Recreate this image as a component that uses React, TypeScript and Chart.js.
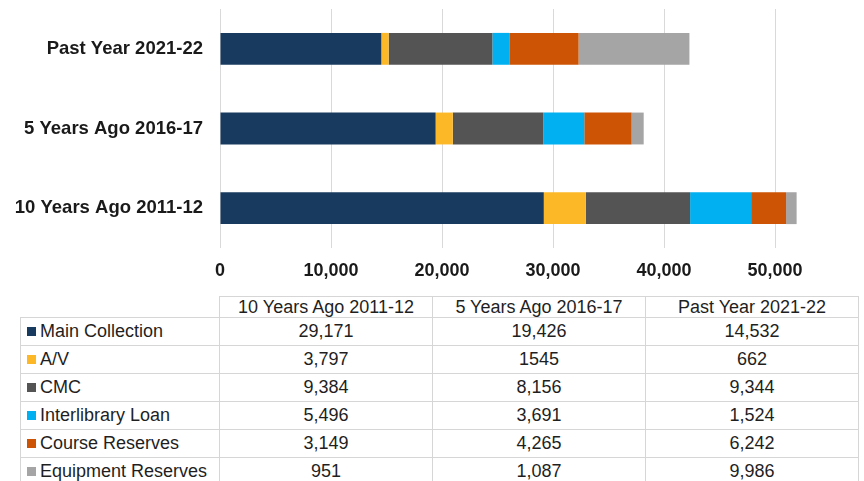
import React, { useEffect, useRef } from "react";
import { Chart, registerables } from "chart.js";

Chart.register(...registerables);

const categories = ["10 Years Ago 2011-12", "5 Years Ago 2016-17", "Past Year 2021-22"];
const seriesNames = ["Main Collection", "A/V", "CMC", "Interlibrary Loan", "Course Reserves", "Equipment Reserves"];
const mainCollection = [29171, 19426, 14532];
const av = [3797, 1545, 662];
const cmc = [9384, 8156, 9344];
const interlibraryLoan = [5496, 3691, 1524];
const courseReserves = [3149, 4265, 6242];
const equipmentReserves = [951, 1087, 9986];
const seriesColors = ["#193a5f", "#fdb827", "#545454", "#00b0f0", "#cd5404", "#a5a5a5"];
const xTicks = [0, 10000, 20000, 30000, 40000, 50000];
// the source table prints this one cell without a thousands separator
const plainCells = ["A/V|5 Years Ago 2016-17"];

const seriesValues = [mainCollection, av, cmc, interlibraryLoan, courseReserves, equipmentReserves];

const FONT = "'Liberation Sans', Arial, sans-serif";

function fmt(v: number, series: string, cat: string) {
  if (plainCells.includes(series + "|" + cat)) return String(v);
  return v.toLocaleString("en-US");
}

export default function App() {
  const ref = useRef<HTMLCanvasElement | null>(null);

  useEffect(() => {
    document.body.style.margin = "0";
    const canvas = ref.current;
    if (!canvas) return;
    const chart = new Chart(canvas, {
      type: "bar",
      data: {
        labels: categories,
        datasets: seriesNames.map((name, i) => ({
          label: name,
          data: seriesValues[i],
          backgroundColor: seriesColors[i],
          borderWidth: 0,
          categoryPercentage: 1,
          barPercentage: 0.4,
          clip: false as any,
        })),
      },
      options: {
        indexAxis: "y",
        animation: false,
        responsive: false,
        maintainAspectRatio: false,
        layout: { padding: { top: 9, right: 89, left: 0, bottom: 0 } },
        plugins: { legend: { display: false }, tooltip: { enabled: false } },
        scales: {
          x: {
            stacked: true,
            min: 0,
            max: 50000,
            afterBuildTicks: (scale: any) => {
              scale.ticks = xTicks.map((v) => ({ value: v }));
            },
            afterFit: (scale: any) => {
              scale.height = 42;
            },
            grid: { color: "#d9d9d9", lineWidth: 1, drawTicks: false },
            border: { display: false },
            ticks: {
              padding: 12,
              color: "#1a1a1a",
              font: { family: FONT, size: 18, weight: "bold" },
              callback: (v: any) => Number(v).toLocaleString("en-US"),
            },
          },
          y: {
            stacked: true,
            reverse: true,
            afterFit: (scale: any) => {
              scale.width = 220;
              scale.paddingTop = 0;
              scale.paddingBottom = 0;
            },
            grid: { display: false, drawTicks: false },
            border: { display: false },
            ticks: {
              padding: 17,
              color: "#1a1a1a",
              font: { family: FONT, size: 18.5, weight: "bold" },
            },
          },
        },
      },
    });
    return () => chart.destroy();
  }, []);

  const cellBorder = "1px solid #d6d6d6";

  return (
    <div style={{ position: "relative", width: 864, height: 481, overflow: "hidden", background: "#fff" }}>
      <canvas ref={ref} width={864} height={290} style={{ position: "absolute", left: 0, top: 0, width: 864, height: 290 }} />
      <table
        style={{
          position: "absolute",
          left: 20,
          top: 296,
          borderCollapse: "collapse",
          tableLayout: "fixed",
          fontFamily: FONT,
          fontSize: 18,
          color: "#1f1f1f",
        }}
      >
        <colgroup>
          <col style={{ width: 199 }} />
          {categories.map((c) => (
            <col key={c} style={{ width: 213 }} />
          ))}
        </colgroup>
        <tbody>
          <tr style={{ height: 21 }}>
            <td style={{ padding: 0 }} />
            {categories.map((c) => (
              <td key={c} style={{ border: cellBorder, textAlign: "center", padding: 0, lineHeight: "20px" }}>
                {c}
              </td>
            ))}
          </tr>
          {seriesNames.map((name, si) => (
            <tr key={name} style={{ height: 28 }}>
              <td style={{ border: cellBorder, padding: "0 0 0 6px", lineHeight: "27px", whiteSpace: "nowrap" }}>
                <span
                  style={{
                    display: "inline-block",
                    width: 9,
                    height: 9,
                    background: seriesColors[si],
                    marginRight: 4,
                    verticalAlign: "1px",
                  }}
                />
                {name}
              </td>
              {categories.map((c, ci) => (
                <td key={c} style={{ border: cellBorder, textAlign: "center", padding: 0, lineHeight: "27px" }}>
                  {fmt(seriesValues[si][ci], name, c)}
                </td>
              ))}
            </tr>
          ))}
        </tbody>
      </table>
    </div>
  );
}
